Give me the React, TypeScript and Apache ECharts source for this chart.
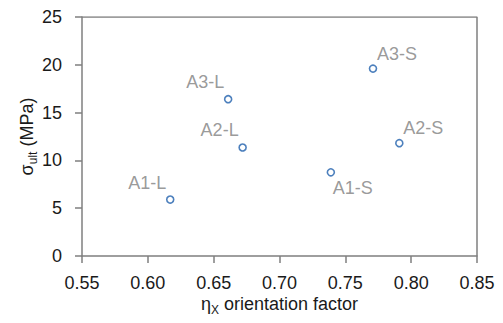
import React, { useEffect, useRef } from "react";
import * as echarts from "echarts";

const sampleNames = ["A1-L", "A2-L", "A3-L", "A1-S", "A2-S", "A3-S"];
const orientationFactor = [0.617, 0.672, 0.661, 0.739, 0.791, 0.771];
const ultimateStress = [5.9, 11.35, 16.4, 8.75, 11.8, 19.6];
const xTicks = { min: 0.55, max: 0.85, interval: 0.05 };
const yTicks = { min: 0, max: 25, interval: 5 };

const FONT = "Liberation Sans";
const AXIS_COLOR = "#7f7f7f";
const TEXT_COLOR = "#1a1a1a";

function labelOffset(name: string): [number, number] {
  if (name.endsWith("-L")) return [-23, -17];
  if (name === "A1-S") return [22, 16];
  return [24, -15];
}

export default function App() {
  const ref = useRef<HTMLDivElement>(null);
  useEffect(() => {
    if (!ref.current) return;
    const chart = echarts.init(ref.current, undefined, { renderer: "svg" });
    const data = sampleNames.map((n, i) => ({
      name: n,
      value: [orientationFactor[i], ultimateStress[i]],
      label: { offset: labelOffset(n) },
    }));
    const richTitle = {
      m: { fontFamily: FONT, fontSize: 18, color: TEXT_COLOR, lineHeight: 24, verticalAlign: "middle" },
      sub: { fontFamily: FONT, fontSize: 12, color: TEXT_COLOR, lineHeight: 12, verticalAlign: "bottom" },
    };
    chart.setOption({
      animation: false,
      grid: { left: 82, right: 26, top: 17, bottom: 67, outerBoundsMode: "none", containLabel: false },
      xAxis: {
        type: "value",
        min: xTicks.min,
        max: xTicks.max,
        interval: xTicks.interval,
        name: "{m|η}{sub|X}{m| orientation factor}",
        nameLocation: "middle",
        nameGap: 36,
        nameMoveOverlap: false,
        nameTextStyle: { rich: richTitle },
        axisLine: { show: true, lineStyle: { color: AXIS_COLOR, width: 1.5 } },
        axisTick: { show: true, inside: false, length: 7, lineStyle: { color: AXIS_COLOR, width: 1.5 } },
        axisLabel: {
          fontFamily: FONT,
          fontSize: 18,
          color: TEXT_COLOR,
          margin: 18,
          formatter: (v: number) => v.toFixed(2),
        },
        splitLine: { show: false },
      },
      yAxis: {
        type: "value",
        min: yTicks.min,
        max: yTicks.max,
        interval: yTicks.interval,
        name: "{m|σ}{sub|ult}{m| (MPa)}",
        nameLocation: "middle",
        nameRotate: 90,
        nameGap: 43,
        nameMoveOverlap: false,
        nameTextStyle: { rich: richTitle },
        axisLine: { show: true, lineStyle: { color: AXIS_COLOR, width: 1.5 } },
        axisTick: { show: true, inside: false, length: 7, lineStyle: { color: AXIS_COLOR, width: 1.5 } },
        axisLabel: { fontFamily: FONT, fontSize: 18, color: TEXT_COLOR, margin: 20 },
        splitLine: { show: false },
      },
      series: [
        {
          type: "scatter",
          data,
          symbol: "circle",
          symbolSize: 7,
          itemStyle: { color: "#ffffff", borderColor: "#2160ad", borderWidth: 1.6 },
          label: {
            show: true,
            position: "inside",
            formatter: "{b}",
            fontFamily: FONT,
            fontSize: 18,
            color: "#808080",
          },
          emphasis: { disabled: true },
        },
        {
          // frame: top and right borders of the plot area
          type: "line",
          data: [
            [xTicks.min, yTicks.max],
            [xTicks.max, yTicks.max],
            [xTicks.max, yTicks.min],
          ],
          symbol: "none",
          lineStyle: { color: AXIS_COLOR, width: 1.5 },
          silent: true,
        },
      ],
    });
    return () => chart.dispose();
  }, []);
  return <div ref={ref} style={{ width: 503, height: 323, margin: -8 }} />;
}
